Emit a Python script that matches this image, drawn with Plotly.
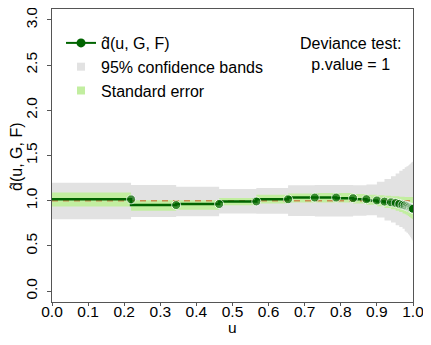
import plotly.graph_objects as go

# step grid (first element is start of curve, no marker)
u = [0.0, 0.219, 0.344, 0.463, 0.566, 0.654, 0.728, 0.787, 0.834, 0.871, 0.900,
     0.921, 0.939, 0.952, 0.962, 0.971, 0.977, 0.982, 0.986, 0.989, 0.992, 0.994,
     0.996, 0.998, 1.0]
d_hat = [1.015, 1.015, 0.952, 0.963, 0.992, 1.016, 1.035, 1.035, 1.028, 1.017, 1.003,
         0.990, 0.982, 0.975, 0.965, 0.955, 0.948, 0.940, 0.935, 0.930, 0.925, 0.920,
         0.917, 0.914, 0.910]
ci_hi = [1.20, 1.20, 1.175, 1.155, 1.13, 1.14, 1.17, 1.175, 1.175, 1.17, 1.18,
         1.21, 1.24, 1.27, 1.30, 1.33, 1.35, 1.37, 1.38, 1.39, 1.40, 1.41,
         1.42, 1.425, 1.43]
ci_lo = [0.795, 0.795, 0.82, 0.827, 0.86, 0.855, 0.83, 0.826, 0.826, 0.835, 0.84,
         0.815, 0.78, 0.76, 0.73, 0.71, 0.69, 0.66, 0.645, 0.63, 0.615, 0.60,
         0.585, 0.57, 0.56]
se_hi = [1.09, 1.09, 1.005, 1.005, 1.03, 1.065, 1.08, 1.085, 1.085, 1.075, 1.065,
         1.06, 1.055, 1.05, 1.05, 1.045, 1.045, 1.04, 1.04, 1.04, 1.04, 1.04,
         1.04, 1.04, 1.04]
se_lo = [0.937, 0.937, 0.89, 0.90, 0.95, 0.97, 0.98, 0.98, 0.98, 0.97, 0.955,
         0.94, 0.92, 0.905, 0.89, 0.875, 0.86, 0.85, 0.84, 0.83, 0.82, 0.815,
         0.81, 0.80, 0.795]
x_ticks = [0.0, 0.1, 0.2, 0.3, 0.4, 0.5, 0.6, 0.7, 0.8, 0.9, 1.0]
y_ticks = [0.0, 0.5, 1.0, 1.5, 2.0, 2.5, 3.0]

GRAY = "#e2e2e2"
GREEN = "#c2eea0"
DARK = "#006400"
FONT = "Liberation Sans, Arial, sans-serif"

fig = go.Figure()
# confidence band
fig.add_trace(go.Scatter(x=u, y=ci_lo, mode="lines", line=dict(width=0, shape="vh"),
                         showlegend=False, hoverinfo="skip"))
fig.add_trace(go.Scatter(x=u, y=ci_hi, mode="lines", line=dict(width=0, shape="vh"),
                         fill="tonexty", fillcolor=GRAY, showlegend=False, hoverinfo="skip"))
# standard error band
fig.add_trace(go.Scatter(x=u, y=se_lo, mode="lines", line=dict(width=0, shape="vh"),
                         showlegend=False, hoverinfo="skip"))
fig.add_trace(go.Scatter(x=u, y=se_hi, mode="lines", line=dict(width=0, shape="vh"),
                         fill="tonexty", fillcolor=GREEN, showlegend=False, hoverinfo="skip"))
# reference line at 1
fig.add_trace(go.Scatter(x=[0, 1], y=[1, 1], mode="lines",
                         line=dict(color="#c98a50", width=1.5, dash="6px,5px"),
                         showlegend=False, hoverinfo="skip"))
# estimate
sizes = [0] + [9] * (len(u) - 1)
fig.add_trace(go.Scatter(x=u, y=d_hat, mode="lines+markers",
                         line=dict(color=DARK, width=2.5, shape="vh"),
                         marker=dict(color=DARK, size=sizes),
                         name="d\u0302(u, G, F)", showlegend=False))
# legend entries
fig.add_trace(go.Scatter(x=[None], y=[None], mode="lines+markers",
                         line=dict(color=DARK, width=2), marker=dict(color=DARK, size=9),
                         name="d\u0302(u, G, F)"))
fig.add_trace(go.Scatter(x=[None], y=[None], mode="markers",
                         marker=dict(color=GRAY, size=8, symbol="square"),
                         name="95% confidence bands"))
fig.add_trace(go.Scatter(x=[None], y=[None], mode="markers",
                         marker=dict(color=GREEN, size=8, symbol="square"),
                         name="Standard error"))

fig.add_annotation(x=0.8255, y=0.918, xref="paper", yref="paper", xanchor="center", yanchor="top",
                   text="Deviance test:<br>p.value = 1", showarrow=False,
                   font=dict(family=FONT, size=16, color="black"))
# axis titles
fig.add_annotation(x=-0.097, y=0.495, xref="paper", yref="paper", xanchor="center", yanchor="middle",
                   text="d\u0302(u, G, F)", textangle=-90, showarrow=False,
                   font=dict(family=FONT, size=16, color="black"))
fig.add_annotation(x=0.5, y=-0.0887, xref="paper", yref="paper", xanchor="center", yanchor="middle",
                   text="u", showarrow=False, borderpad=0,
                   font=dict(family=FONT, size=15.5, color="black"))

axis_common = dict(showline=True, linecolor="#555555", linewidth=1, mirror=True,
                   ticks="outside", tickcolor="#555555", showgrid=False,
                   zeroline=False, automargin=False, ticklabeloverflow="allow",
                   tickfont=dict(family=FONT, size=15.5, color="black"))
fig.update_xaxes(range=[0, 1], tickvals=x_ticks, ticktext=[f"{v:.1f}" for v in x_ticks],
                 ticklen=3, ticklabelstandoff=-8,
                 **axis_common)
fig.update_yaxes(range=[-0.12, 3.12], tickvals=y_ticks, ticktext=[f"{v:.1f}" for v in y_ticks],
                 tickangle=-90, ticklen=4, ticklabelstandoff=4,
                 **axis_common)

# the page body has an 8px margin, so the figure is sized to fit the window without scrolling
fig.update_layout(width=415, height=329, margin=dict(l=44, r=10, t=1, b=35),
                  plot_bgcolor="white", paper_bgcolor="white",
                  font=dict(family=FONT, size=16, color="black"),
                  legend=dict(x=0.025, y=0.942, xanchor="left", yanchor="top",
                              traceorder="normal",
                              bgcolor="rgba(0,0,0,0)", font=dict(family=FONT, size=16),
                              itemwidth=30, tracegroupgap=0))

fig.write_html("out.html")
